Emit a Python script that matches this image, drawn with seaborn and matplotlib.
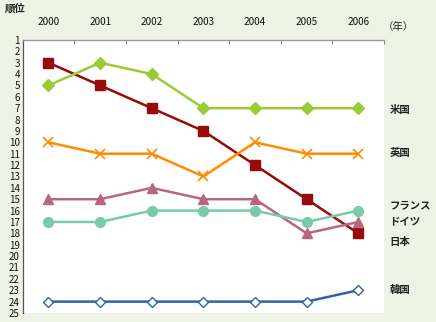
import matplotlib
matplotlib.use("Agg")
import matplotlib.pyplot as plt
from matplotlib.ticker import FixedLocator
import seaborn as sns
import pandas as pd

years = ["2000", "2001", "2002", "2003", "2004", "2005", "2006"]
countries = ["日本", "米国", "英国", "フランス", "ドイツ", "韓国"]
rank_japan = [3, 5, 7, 9, 12, 15, 18]
rank_us = [5, 3, 4, 7, 7, 7, 7]
rank_uk = [10, 11, 11, 13, 10, 11, 11]
rank_france = [15, 15, 14, 15, 15, 18, 17]
rank_germany = [17, 17, 16, 16, 16, 17, 16]
rank_korea = [24, 24, 24, 24, 24, 24, 23]
rank_ticks = list(range(1, 26))

series = {
    "日本": rank_japan,
    "米国": rank_us,
    "英国": rank_uk,
    "フランス": rank_france,
    "ドイツ": rank_germany,
    "韓国": rank_korea,
}

rows = []
for name, vals in series.items():
    for i, v in enumerate(vals):
        rows.append({"pos": i, "year": years[i], "country": name, "rank": v})
df = pd.DataFrame(rows)

palette = {
    "日本": "#990a0a",
    "米国": "#99cc33",
    "英国": "#ff8c00",
    "フランス": "#b8667f",
    "ドイツ": "#77cba9",
    "韓国": "#2f62ad",
}
# marker, size, face colour (None = same as line)
marker_style = {
    "日本": ("s", 6.5, None),
    "米国": ("D", 6.0, None),
    "英国": ("x", 7.0, None),
    "フランス": ("^", 7.0, None),
    "ドイツ": ("o", 7.0, None),
    "韓国": ("D", 5.5, "white"),
}

sns.set_theme(style="white")
plt.rcParams["font.family"] = ["Noto Sans CJK JP", "DejaVu Sans"]

bg = "#eef3e6"
fig = plt.figure(figsize=(4.36, 3.22), dpi=100, facecolor=bg)
ax = fig.add_axes([0.052, 0.028, 0.829, 0.848])
ax.set_facecolor("white")

for name in countries:
    m, ms, face = marker_style[name]
    col = palette[name]
    sns.lineplot(data=df[df["country"] == name], x="pos", y="rank",
                 color=col, linewidth=1.8, marker=m, markersize=ms,
                 markeredgewidth=1.2 if m == "x" else 1.0,
                 markerfacecolor=face if face else col,
                 markeredgecolor=col, ax=ax)

ax.set_xlim(-0.5, 6.5)
ax.set_ylim(25, 1)

ax.xaxis.set_ticks_position("top")
ax.xaxis.set_label_position("top")
ax.set_xticks(range(len(years)))
ax.set_xticklabels(years)
ax.xaxis.set_minor_locator(FixedLocator([i - 0.5 for i in range(len(years) + 1)]))
ax.tick_params(axis="x", which="major", length=0, pad=9, labelsize=7.2, colors="#111111")
ax.tick_params(axis="x", which="minor", length=3, width=0.8, direction="in",
               color="#888888", top=True, bottom=False)

ax.set_yticks(rank_ticks)
ax.set_yticklabels([str(t) for t in rank_ticks])
ax.tick_params(axis="y", length=0, pad=2, labelsize=7, colors="#111111")

ax.set_xlabel("")
ax.set_ylabel("")
for side in ["bottom", "right"]:
    ax.spines[side].set_visible(False)
ax.spines["top"].set_color("#999999")
ax.spines["top"].set_linewidth(1.0)
ax.spines["left"].set_color("#555555")
ax.spines["left"].set_linewidth(0.9)

fig.text(5 / 436, 1 - 8 / 322, "順位", fontsize=7.5, fontweight="bold",
         va="center", ha="left", color="#222222")
fig.text(383 / 436, 1 - 27 / 322, "（年）", fontsize=7.5, va="center", ha="left",
         color="#222222")

label_y = {"米国": 7.2, "英国": 10.9, "フランス": 15.5, "ドイツ": 17.0, "日本": 18.8, "韓国": 23.0}
for name, yv in label_y.items():
    ax.text(1.015, yv, name, transform=ax.get_yaxis_transform(), fontsize=7.5,
            fontweight="bold", va="center", ha="left", color="#222222")

fig.savefig("out.png", dpi=100, facecolor=bg)
